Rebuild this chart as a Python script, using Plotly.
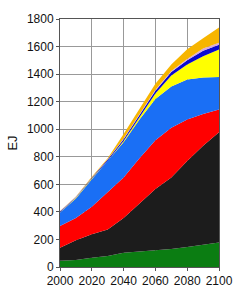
import plotly.graph_objects as go

years = [2000, 2010, 2020, 2030, 2040, 2050, 2060, 2070, 2080, 2090, 2100]

green = [45, 50, 68, 80, 103, 112, 120, 130, 145, 160, 177]
black = [95, 145, 170, 193, 252, 348, 447, 520, 625, 720, 801]
red = [158, 160, 200, 270, 295, 330, 353, 360, 300, 230, 165]
blue = [97, 143, 199, 224, 255, 280, 300, 300, 290, 265, 236]
yellow = [3, 4, 5, 5, 10, 20, 40, 80, 110, 155, 200]
navy = [5, 5, 6, 8, 13, 15, 20, 25, 30, 40, 35]
pink = [2, 2, 2, 2, 4, 5, 7, 8, 10, 15, 14]
orange = [2, 3, 5, 8, 33, 40, 43, 47, 70, 75, 110]

series = [
    ("green", green, "#0b7d12"),
    ("black", black, "#1c1c1c"),
    ("red", red, "#ff0000"),
    ("blue", blue, "#1a6ff5"),
    ("yellow", yellow, "#ffff00"),
    ("navy", navy, "#0a0ad0"),
    ("pink", pink, "#d8a8dc"),
    ("orange", orange, "#f7b500"),
]

y_ticks = [0, 200, 400, 600, 800, 1000, 1200, 1400, 1600, 1800]
x_ticks = [2000, 2020, 2040, 2060, 2080, 2100]

fig = go.Figure()
for name, vals, col in series:
    fig.add_trace(go.Scatter(
        x=years, y=vals, name=name, stackgroup="one", mode="lines",
        line=dict(width=0, color=col), fillcolor=col, hoverinfo="skip",
    ))

fig.update_layout(
    width=245, height=300,
    margin=dict(l=54, r=21, t=17, b=28),
    paper_bgcolor="white", plot_bgcolor="white",
    showlegend=False,
    font=dict(family="Liberation Sans, Arial, sans-serif", size=12, color="#111"),
)
fig.update_xaxes(
    range=[2000, 2100], tickvals=x_ticks, showgrid=True, gridcolor="#999",
    gridwidth=1, showline=True, linecolor="#555", mirror=True,
    ticks="outside", ticklen=3, tickcolor="#555", zeroline=False,
)
fig.update_yaxes(
    range=[0, 1800], tickvals=y_ticks, showgrid=True, gridcolor="#999",
    gridwidth=1, showline=True, linecolor="#555", mirror=True,
    ticks="outside", ticklen=3, tickcolor="#555", zeroline=False,
    title=dict(text="EJ", standoff=6, font=dict(size=13)),
)
fig.write_html("out.html")
